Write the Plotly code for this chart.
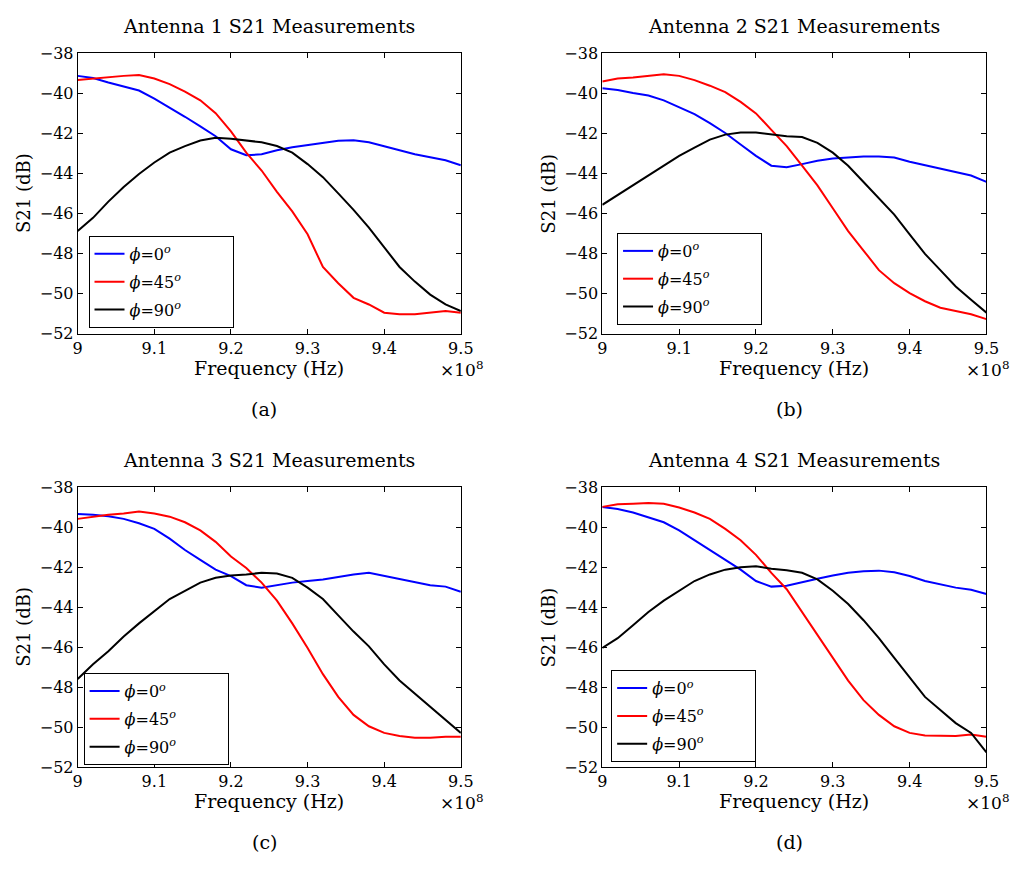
import plotly.graph_objects as go

# Frequency in units of 1e8 Hz
freq = [9.00, 9.02, 9.04, 9.06, 9.08, 9.10, 9.12, 9.14, 9.16, 9.18, 9.20, 9.22, 9.24,
        9.26, 9.28, 9.30, 9.32, 9.34, 9.36, 9.38, 9.40, 9.42, 9.44, 9.46, 9.48, 9.50]

# Antenna 1
a1_phi0 = [-39.14, -39.25, -39.47, -39.68, -39.87, -40.28, -40.72, -41.18, -41.66, -42.15, -42.80, -43.10, -43.05,
           -42.85, -42.70, -42.60, -42.50, -42.38, -42.35, -42.45, -42.65, -42.85, -43.05, -43.20, -43.35, -43.60]
a1_phi45 = [-39.35, -39.27, -39.19, -39.14, -39.10, -39.27, -39.55, -39.92, -40.36, -41.00, -41.91, -42.97, -43.86,
            -44.92, -45.90, -47.04, -48.67, -49.48, -50.21, -50.54, -50.95, -51.03, -51.03, -50.95, -50.87, -50.95]
a1_phi90 = [-46.88, -46.22, -45.41, -44.68, -44.03, -43.46, -42.97, -42.64, -42.36, -42.23, -42.28, -42.35, -42.45,
            -42.64, -42.97, -43.54, -44.19, -45.00, -45.82, -46.71, -47.69, -48.67, -49.40, -50.05, -50.54, -50.87]

# Antenna 2
a2_phi0 = [-39.76, -39.84, -39.99, -40.12, -40.36, -40.69, -41.05, -41.50, -41.99, -42.56, -43.13, -43.62, -43.70,
           -43.54, -43.37, -43.26, -43.21, -43.16, -43.16, -43.21, -43.42, -43.59, -43.78, -43.94, -44.11, -44.43]
a2_phi45 = [-39.42, -39.27, -39.22, -39.14, -39.06, -39.14, -39.35, -39.63, -39.95, -40.44, -41.01, -41.83, -42.64,
            -43.62, -44.60, -45.74, -46.88, -47.85, -48.83, -49.48, -49.97, -50.38, -50.70, -50.87, -51.03, -51.27]
a2_phi90 = [-45.57, -45.08, -44.60, -44.11, -43.62, -43.13, -42.72, -42.32, -42.07, -41.96, -41.96, -42.07, -42.15,
            -42.19, -42.48, -42.97, -43.62, -44.43, -45.24, -46.06, -47.04, -48.02, -48.83, -49.64, -50.30, -50.95]

# Antenna 3
a3_phi0 = [-39.34, -39.37, -39.45, -39.58, -39.80, -40.08, -40.57, -41.14, -41.63, -42.12, -42.44, -42.90, -43.02,
           -42.90, -42.77, -42.69, -42.61, -42.49, -42.36, -42.28, -42.44, -42.61, -42.77, -42.90, -42.97, -43.23]
a3_phi45 = [-39.58, -39.47, -39.37, -39.31, -39.21, -39.31, -39.47, -39.75, -40.16, -40.73, -41.46, -42.04, -42.77,
            -43.67, -44.81, -46.04, -47.35, -48.49, -49.39, -49.96, -50.29, -50.45, -50.53, -50.53, -50.48, -50.48]
a3_phi90 = [-47.59, -46.86, -46.20, -45.47, -44.81, -44.21, -43.59, -43.18, -42.77, -42.53, -42.41, -42.36, -42.28,
            -42.31, -42.53, -43.02, -43.59, -44.41, -45.22, -45.96, -46.86, -47.67, -48.33, -48.98, -49.63, -50.29]

# Antenna 4
a4_phi0 = [-38.98, -39.09, -39.26, -39.50, -39.75, -40.16, -40.65, -41.14, -41.63, -42.12, -42.69, -42.97, -42.93,
           -42.77, -42.58, -42.41, -42.28, -42.20, -42.17, -42.25, -42.44, -42.69, -42.85, -43.02, -43.13, -43.34]
a4_phi45 = [-38.98, -38.85, -38.82, -38.78, -38.82, -39.01, -39.26, -39.58, -40.08, -40.65, -41.38, -42.28, -43.10,
            -44.24, -45.39, -46.53, -47.67, -48.65, -49.39, -49.96, -50.29, -50.42, -50.42, -50.45, -50.37, -50.48]
a4_phi90 = [-46.04, -45.55, -44.90, -44.24, -43.67, -43.18, -42.69, -42.36, -42.12, -42.00, -41.95, -42.08, -42.15,
            -42.28, -42.61, -43.18, -43.84, -44.65, -45.55, -46.53, -47.51, -48.49, -49.14, -49.80, -50.29, -51.27]

PAD = "\u00a0" * 9
series_names = ["<i>ϕ</i>=0<sup><i>o</i></sup>" + PAD,
                "<i>ϕ</i>=45<sup><i>o</i></sup>" + PAD,
                "<i>ϕ</i>=90<sup><i>o</i></sup>" + PAD]
series_colors = ["#0000ff", "#ff0000", "#000000"]
titles = ["Antenna 1 S21 Measurements", "Antenna 2 S21 Measurements",
          "Antenna 3 S21 Measurements", "Antenna 4 S21 Measurements"]
sub_labels = ["(a)", "(b)", "(c)", "(d)"]
x_ticks = [9.0, 9.1, 9.2, 9.3, 9.4, 9.5]
x_ticktext = ["9", "9.1", "9.2", "9.3", "9.4", "9.5"]
y_ticks = [-52, -50, -48, -46, -44, -42, -40, -38]

panels = [
    [a1_phi0, a1_phi45, a1_phi90],
    [a2_phi0, a2_phi45, a2_phi90],
    [a3_phi0, a3_phi45, a3_phi90],
    [a4_phi0, a4_phi45, a4_phi90],
]

W, H = 1024, 869
FONT = "DejaVu Serif"

# Plot areas in pixels: (left, right, top, bottom)
boxes = [(74, 464, 45, 332), (608, 999, 45, 332), (74, 464, 489, 775), (608, 999, 489, 775)]
legend_pos = [(85, 232), (623, 229), (80, 679), (617, 676)]

fig = go.Figure()
layout = dict(
    width=W, height=H, margin=dict(l=0, r=0, t=0, b=0),
    paper_bgcolor="white", plot_bgcolor="white",
    font=dict(family=FONT, size=16, color="black"),
    showlegend=True,
)
annotations = []

for i, data in enumerate(panels):
    n = "" if i == 0 else str(i + 1)
    leg = "legend" if i == 0 else "legend%d" % (i + 1)
    for j in range(3):
        fig.add_trace(go.Scatter(
            x=freq, y=data[j], mode="lines", name=series_names[j],
            line=dict(color=series_colors[j], width=2),
            xaxis="x" + n, yaxis="y" + n, legend=leg, legendgroup="g%d_%d" % (i, j),
        ))
    l, r, t, b = boxes[i]
    layout["xaxis" + n] = dict(
        domain=[l / W, r / W], range=[9.0, 9.5], anchor="y" + n,
        tickvals=x_ticks, ticktext=x_ticktext,
        ticks="inside", ticklen=5, tickcolor="black", tickwidth=1,
        showline=True, linecolor="black", linewidth=1, mirror="ticks",
        showgrid=False, zeroline=False, tickfont=dict(family=FONT, size=16),
    )
    layout["yaxis" + n] = dict(
        domain=[1 - b / H, 1 - t / H], range=[-52, -38], anchor="x" + n,
        tickvals=y_ticks,
        ticks="inside", ticklen=5, tickcolor="black", tickwidth=1,
        showline=True, linecolor="black", linewidth=1, mirror="ticks",
        showgrid=False, zeroline=False, tickfont=dict(family=FONT, size=16),
    )
    lx, ly = legend_pos[i]
    layout[leg] = dict(
        x=lx / W, y=1 - ly / H, xanchor="left", yanchor="top",
        xref="paper", yref="paper",
        bgcolor="white", bordercolor="black", borderwidth=1,
        font=dict(family=FONT, size=16), tracegroupgap=4,
    )
    cx = (l + r) / 2
    # Panel title
    annotations.append(dict(text=titles[i], x=(cx) / W, y=1 - (t - 28) / H, xref="paper", yref="paper",
                            xanchor="center", yanchor="middle", showarrow=False,
                            font=dict(family=FONT, size=19)))
    # X title
    annotations.append(dict(text="Frequency (Hz)", x=cx / W, y=1 - (b + 35) / H, xref="paper", yref="paper",
                            xanchor="center", yanchor="middle", showarrow=False,
                            font=dict(family=FONT, size=19)))
    # x10^8 multiplier
    annotations.append(dict(text="×10<sup>8</sup>", x=(r + 1) / W, y=1 - (b + 36) / H, xref="paper", yref="paper",
                            xanchor="center", yanchor="middle", showarrow=False,
                            font=dict(family=FONT, size=17)))
    # Y title
    annotations.append(dict(text="S21 (dB)", x=(l - 55) / W, y=1 - ((t + b) / 2) / H, xref="paper", yref="paper",
                            xanchor="center", yanchor="middle", showarrow=False, textangle=-90,
                            font=dict(family=FONT, size=18)))
    # Sub-figure label
    annotations.append(dict(text=sub_labels[i], x=(cx - 5) / W, y=1 - (b + 77) / H, xref="paper", yref="paper",
                            xanchor="center", yanchor="middle", showarrow=False,
                            font=dict(family=FONT, size=19)))

layout["annotations"] = annotations
fig.update_layout(**layout)
fig.write_html("out.html")
